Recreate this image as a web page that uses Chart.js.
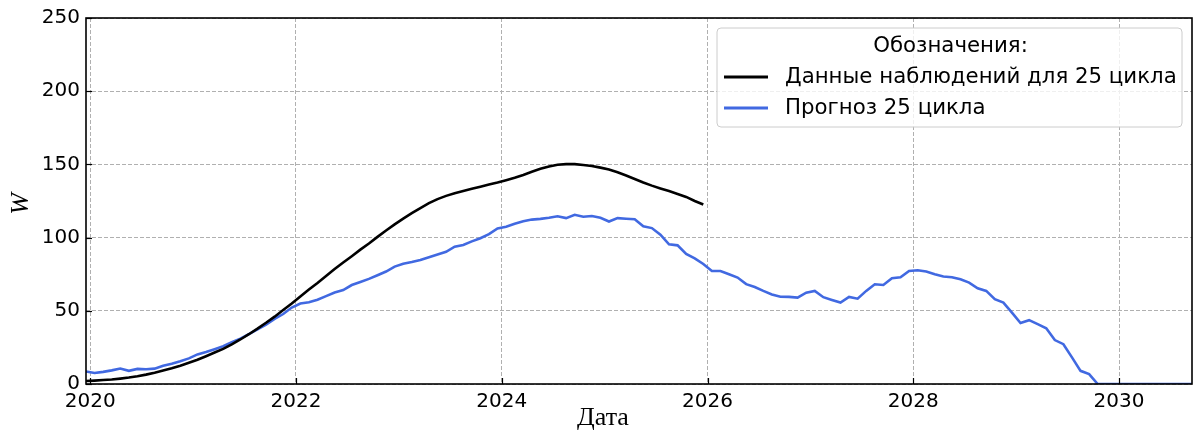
<!DOCTYPE html>
<html>
<head>
<meta charset="utf-8">
<script src="https://cdn.jsdelivr.net/npm/chart.js@4/dist/chart.umd.min.js"></script>
<style>
  html, body { margin: 0; padding: 0; background: #fff; }
  canvas { display: block; }
</style>
</head>
<body>
<canvas id="c" width="1193" height="432"></canvas>
<script>
// ---- data (monthly, first month = mid-December 2019) ----
const firstMonth = 2019.959;           // decimal year of first monthly sample
const xTicks = [2020, 2022, 2024, 2026, 2028, 2030];
const yTicks = [0, 50, 100, 150, 200, 250];

const observedLabel = 'Данные наблюдений для 25 цикла';
const forecastLabel = 'Прогноз 25 цикла';
const legendTitle = 'Обозначения:';
const xTitle = 'Дата';
const yTitle = 'W';

const observedValues = [
  2.0, 2.3, 2.7, 3.1, 3.7, 4.4, 5.3, 6.4, 7.7, 9.2, 10.7, 12.5,
  14.5, 16.6, 19, 21.5, 24, 27, 30.4, 34, 37.8, 41.8, 46, 50.5,
  55, 59.8, 64.5, 69, 73.8, 78.5, 83, 87.3, 91.8, 96, 100.5, 104.8,
  109, 113, 116.7, 120.2, 123.5, 126.3, 128.5, 130.3, 131.8, 133.3, 134.8, 136.3,
  137.6, 139.2, 140.9, 142.8, 145, 147, 148.6, 149.8, 150.2, 150.2, 149.6, 148.9,
  147.8, 146.5, 144.6, 142.4, 140, 137.6, 135.5, 133.6, 131.8, 129.8, 127.8, 125,
  122.6
];

const forecastValues = [
  8.5, 7.5, 8.3, 9.3, 10.6, 9.0, 10.3, 10.1, 10.5, 12.5, 13.8, 15.5,
  17.5, 20.2, 21.8, 23.8, 25.8, 28.5, 31, 34, 37.3, 40.6, 44.5, 47.8,
  52.2, 55, 55.8, 57.6, 60, 62.5, 64.2, 67.6, 69.7, 71.8, 74.3, 76.8,
  80.2, 82.2, 83.3, 84.7, 86.6, 88.5, 90.3, 93.8, 95, 97.4, 99.6, 102.4,
  106.3, 107.4, 109.5, 111.2, 112.3, 112.8, 113.6, 114.6, 113.3, 115.6, 114.2, 114.7,
  113.5, 111, 113.3, 112.9, 112.6, 107.8, 106.5, 102, 95.4, 94.7, 88.8, 85.8,
  82, 77.2, 77.2, 75, 72.7, 68.2, 66.2, 63.6, 61.2, 59.6, 59.5, 59,
  62.4, 63.6, 59.3, 57.4, 55.6, 59.5, 58.3, 63.6, 68.1, 67.6, 72.2, 72.9,
  77.2, 77.7, 76.8, 75, 73.4, 72.9, 71.5, 69.3, 65.4, 63.6, 57.9, 55.6,
  48.8, 41.6, 43.6, 40.9, 38.1, 30, 27.2, 18.2, 9, 6.8, 0, 0,
  0, 0, 0, 0, 0, 0, 0, 0, 0, 0
];

// month positions (decimal years) for each sample
const monthX = forecastValues.map((_, i) => firstMonth + i / 12);
const toPoints = vals => vals.map((v, i) => ({ x: monthX[i], y: v }));

const TICK_FONT = { family: 'DejaVu Sans', size: 20 };

const framePlugin = {
  id: 'frame',
  afterDatasetsDraw(chart) {
    const { ctx, chartArea: a, scales } = chart;
    ctx.save();
    // inward ticks
    ctx.strokeStyle = '#000';
    ctx.lineWidth = 1.2;
    scales.x.ticks.forEach(t => {
      const px = Math.round(scales.x.getPixelForValue(t.value)) + 0.5;
      ctx.beginPath(); ctx.moveTo(px, a.bottom); ctx.lineTo(px, a.bottom - 6); ctx.stroke();
    });
    scales.y.ticks.forEach(t => {
      const py = Math.round(scales.y.getPixelForValue(t.value)) + 0.5;
      ctx.beginPath(); ctx.moveTo(a.left, py); ctx.lineTo(a.left + 6, py); ctx.stroke();
    });
    // spines
    ctx.lineWidth = 1.6;
    ctx.strokeRect(a.left, a.top, a.right - a.left, a.bottom - a.top);
    ctx.restore();
  },
  afterDraw(chart) {
    const { ctx } = chart;
    ctx.save();
    // axis titles
    ctx.fillStyle = '#000';
    ctx.textAlign = 'center';
    ctx.textBaseline = 'middle';
    ctx.font = '26px "Liberation Serif"';
    ctx.fillText(xTitle, 603, 418);
    ctx.save();
    ctx.translate(21, 204);
    ctx.rotate(-Math.PI / 2);
    ctx.font = 'italic 26px "Liberation Serif"';
    ctx.fillText(yTitle, 0, 0);
    ctx.restore();

    // legend box
    const bx = 717, by = 28, bw = 465, bh = 99, r = 4;
    ctx.beginPath();
    ctx.moveTo(bx + r, by);
    ctx.arcTo(bx + bw, by, bx + bw, by + bh, r);
    ctx.arcTo(bx + bw, by + bh, bx, by + bh, r);
    ctx.arcTo(bx, by + bh, bx, by, r);
    ctx.arcTo(bx, by, bx + bw, by, r);
    ctx.closePath();
    ctx.fillStyle = 'rgba(255,255,255,0.8)';
    ctx.fill();
    ctx.strokeStyle = '#cccccc';
    ctx.lineWidth = 1;
    ctx.stroke();

    ctx.fillStyle = '#000';
    ctx.font = '21.3px "DejaVu Sans"';
    ctx.textAlign = 'center';
    ctx.fillText(legendTitle, bx + bw / 2 + 1, 46);
    const rows = [77, 108];
    chart.data.datasets.forEach((ds, i) => {
      const y = rows[i];
      ctx.strokeStyle = ds.borderColor;
      ctx.lineWidth = 3;
      ctx.beginPath(); ctx.moveTo(724, y); ctx.lineTo(768, y); ctx.stroke();
      ctx.fillStyle = '#000';
      ctx.textAlign = 'left';
      ctx.fillText(ds.label, 785, y);
    });
    ctx.restore();
  }
};

new Chart(document.getElementById('c'), {
  type: 'line',
  data: {
    datasets: [
      {
        label: observedLabel,
        data: toPoints(observedValues),
        borderColor: '#000000',
        borderWidth: 2.6,
        pointRadius: 0,
        tension: 0,
        fill: false
      },
      {
        label: forecastLabel,
        data: toPoints(forecastValues),
        borderColor: '#4169E1',
        borderWidth: 2.6,
        pointRadius: 0,
        tension: 0,
        fill: false
      }
    ]
  },
  options: {
    responsive: false,
    animation: false,
    devicePixelRatio: 1,
    layout: { padding: { top: 17, right: 1, left: 0, bottom: 0 } },
    plugins: { legend: { display: false }, tooltip: { enabled: false } },
    scales: {
      x: {
        type: 'linear',
        min: firstMonth,
        max: monthX[monthX.length - 1],
        afterBuildTicks: s => { s.ticks = xTicks.map(v => ({ value: v })); },
        afterFit: s => { s.height = 48; },
        grid: { color: '#b0b0b0', lineWidth: 1, drawTicks: false },
        border: { display: false, dash: [4, 2] },
        ticks: {
          font: TICK_FONT, color: '#000', padding: 6,
          autoSkip: false, maxRotation: 0,
          callback: v => String(v)
        }
      },
      y: {
        min: 0,
        max: 250,
        afterBuildTicks: s => { s.ticks = yTicks.map(v => ({ value: v })); },
        afterFit: s => { s.width = 86; },
        grid: { color: '#b0b0b0', lineWidth: 1, drawTicks: false },
        border: { display: false, dash: [4, 2] },
        ticks: {
          font: TICK_FONT, color: '#000', padding: 6,
          callback: v => String(v)
        }
      }
    }
  },
  plugins: [framePlugin]
});
</script>
</body>
</html>
